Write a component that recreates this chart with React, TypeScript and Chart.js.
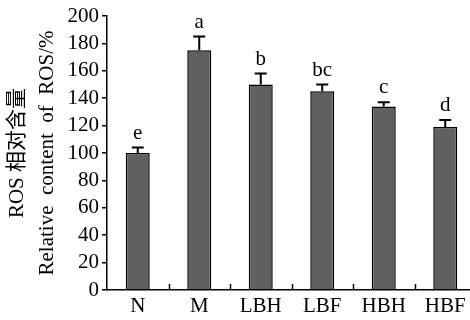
import React, { useEffect, useRef } from 'react';
import { Chart, registerables } from 'chart.js';

Chart.register(...registerables);

const categories = ['N', 'M', 'LBH', 'LBF', 'HBH', 'HBF'];
const rosValues = [100, 175, 150, 145, 134, 119];
const rosErrors = [4, 10, 8, 5, 3, 5];
const sigLetters = ['e', 'a', 'b', 'bc', 'c', 'd'];
const yMin = 0;
const yMax = 200;
const yStep = 20;
const yTitleLines = ['ROS 相对含量', 'Relative  content  of  ROS/%'];

const FONT_FAMILY = '"Liberation Serif", "Times New Roman", "Noto Sans CJK SC", serif';
const FONT_SIZE = 21;

const errorBarPlugin = {
  id: 'errorBarsAndLetters',
  afterDatasetsDraw(chart: any) {
    const { ctx } = chart;
    const x = chart.scales.x;
    const y = chart.scales.y;
    const meta = chart.getDatasetMeta(0);
    ctx.save();
    ctx.strokeStyle = '#000';
    ctx.fillStyle = '#000';
    ctx.lineWidth = 2;
    ctx.font = `${FONT_SIZE}px ${FONT_FAMILY}`;
    ctx.textAlign = 'center';
    ctx.textBaseline = 'alphabetic';
    meta.data.forEach((bar: any, i: number) => {
      const base = y.getPixelForValue(rosValues[i]);
      const top = y.getPixelForValue(rosValues[i] + rosErrors[i]);
      ctx.beginPath();
      ctx.moveTo(bar.x, base);
      ctx.lineTo(bar.x, top);
      ctx.moveTo(bar.x - 6, top);
      ctx.lineTo(bar.x + 6, top);
      ctx.stroke();
      ctx.fillText(sigLetters[i], bar.x, top - 9);
    });
    // inner tick marks on the x axis, between categories
    ctx.lineWidth = 1.5;
    const axisY = y.getPixelForValue(yMin);
    for (let i = 0; i < categories.length - 1; i++) {
      const px = Math.round((x.getPixelForValue(i) + x.getPixelForValue(i + 1)) / 2) + 0.5;
      ctx.beginPath();
      ctx.moveTo(px, axisY);
      ctx.lineTo(px, axisY - 6);
      ctx.stroke();
    }
    ctx.restore();
  },
};

export default function App() {
  const canvasRef = useRef<HTMLCanvasElement | null>(null);

  useEffect(() => {
    if (!canvasRef.current) return;
    const chart = new Chart(canvasRef.current, {
      type: 'bar',
      data: {
        labels: categories,
        datasets: [
          {
            data: rosValues,
            backgroundColor: '#606060',
            borderColor: '#000',
            borderWidth: 1.5,
            categoryPercentage: 1,
            barPercentage: 0.39,
          },
        ],
      },
      options: {
        animation: false,
        responsive: false,
        devicePixelRatio: 1,
        layout: { padding: { top: 16, right: 4, left: 0, bottom: 0 } },
        plugins: {
          legend: { display: false },
          tooltip: { enabled: false },
        },
        scales: {
          x: {
            grid: { display: true, drawOnChartArea: false, drawTicks: false },
            border: { display: true, color: '#000', width: 1.5 },
            ticks: {
              color: '#000',
              padding: 4,
              autoSkip: false,
              maxRotation: 0,
              font: { family: FONT_FAMILY, size: FONT_SIZE },
            },
            afterFit: (scale: any) => {
              scale.height = 30;
            },
          },
          y: {
            min: yMin,
            max: yMax,
            grid: {
              display: true,
              drawOnChartArea: false,
              drawTicks: true,
              tickLength: 5,
              color: '#000',
              lineWidth: 1.5,
            },
            border: { display: true, color: '#000', width: 1.5 },
            ticks: {
              stepSize: yStep,
              autoSkip: false,
              color: '#000',
              padding: 3,
              font: { family: FONT_FAMILY, size: FONT_SIZE },
            },
            title: {
              display: true,
              text: yTitleLines,
              color: '#000',
              font: { family: FONT_FAMILY, size: FONT_SIZE, lineHeight: 1.4 },
              padding: { top: 3, bottom: 0 },
            },
            afterFit: (scale: any) => {
              scale.width = 107;
            },
          },
        },
      },
      plugins: [errorBarPlugin],
    });
    return () => chart.destroy();
  }, []);

  return (
    <div style={{ position: 'fixed', left: 0, top: 0, width: 480, height: 320, background: '#fff' }}>
      <canvas ref={canvasRef} width={480} height={320} style={{ display: 'block' }} />
    </div>
  );
}
